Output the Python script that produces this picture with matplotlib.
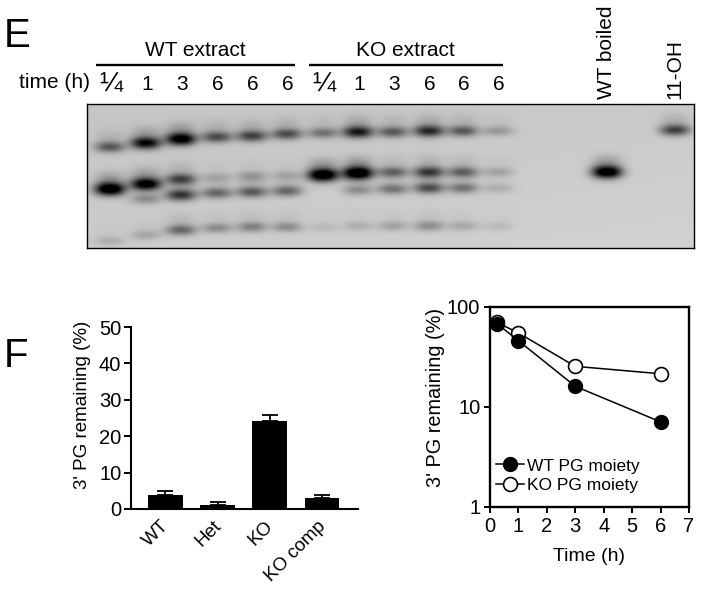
"""Gel panel (E) and PG remaining charts (F)."""

import numpy as np
import matplotlib
import matplotlib.pyplot as plt
from matplotlib.transforms import ScaledTranslation

matplotlib.use("Agg")

plt.rcParams["font.family"] = ["Liberation Sans", "DejaVu Sans"]

W, H = 701, 589

# gel lanes, pixel x of every lane (12 extract lanes, WT boiled, 11-OH)
lane_x = [110, 146, 181, 217, 252, 287, 323, 358, 393, 429, 463, 498, 607, 675]

# (row y in pixels, darkness) per lane, None means no band
oh11_y = [147, 143, 139, 137, 136, 134, 133, 132, 132, 131, 131, 131, None, 130]
oh11_dark = [0.45, 0.8, 0.9, 0.5, 0.55, 0.5, 0.35, 0.72, 0.45, 0.65, 0.45, 0.2, 0, 0.55]
pg11_y = [189, 184, 179, 177, 176, 175, 175, 173, 172, 172, 172, 172, 172, None]
pg11_dark = [1.0, 0.88, 0.5, 0.12, 0.18, 0.12, 1.0, 1.0, 0.4, 0.55, 0.4, 0.15, 0.95, 0]
oh10_y = [None, 199, 195, 193, 192, 191, None, 190, 189, 188, 188, 188, None, None]
oh10_dark = [0, 0.25, 0.6, 0.4, 0.45, 0.4, 0, 0.25, 0.35, 0.5, 0.35, 0.12, 0, 0]
low_y = [241, 235, 230, 228, 227, 227, 227, 226, 226, 226, 226, 226, None, None]
low_dark = [0.12, 0.15, 0.4, 0.25, 0.3, 0.25, 0.08, 0.12, 0.17, 0.25, 0.15, 0.08, 0, 0]

time_labels = ["¼", "1", "3", "6", "6", "6", "¼", "1", "3", "6", "6", "6"]

# bar chart
bar_groups = ["WT", "Het", "KO", "KO comp"]
bar_values = [3.8, 1.2, 24.3, 3.1]
bar_errors = [1.1, 0.7, 1.5, 0.8]

# time course
time_h = [0.25, 1, 3, 6]
wt_pg = [68, 46, 16.1, 7.1]
ko_pg = [70, 55, 25.5, 21.5]

FS = 15


def px_axes(fig, x0, y0, x1, y1):
    return fig.add_axes([x0 / W, 1 - y1 / H, (x1 - x0) / W, (y1 - y0) / H])


def gel_image(x0, y0, x1, y1):
    X, Y = np.meshgrid(np.arange(x0, x1) + 0.5, np.arange(y0, y1) + 0.5)
    signal = np.zeros_like(X, dtype=float)
    for ys, darks in [(oh11_y, oh11_dark), (pg11_y, pg11_dark),
                      (oh10_y, oh10_dark), (low_y, low_dark)]:
        for lx, by, d in zip(lane_x, ys, darks):
            if by is None:
                continue
            across = np.exp(-(np.abs(X - lx) / 15.0) ** 2.4)
            # strong bands get fatter, each has a faint smear above it
            sy = 4.8 + 1.8 * d
            core = np.exp(-((Y - by) / sy) ** 2)
            smear = 0.2 * np.exp(-((Y - by + 11) / 7.0) ** 2)
            signal += d * across * (1.25 * core + smear)
    grey = 0.77 + 0.03 * (Y - y0) / (y1 - y0) + 0.02 * (X - x0) / (x1 - x0)
    return np.clip(grey * (1 - np.clip(signal, 0, 1)), 0, 1)


fig = plt.figure(figsize=(W / 100, H / 100), dpi=100, facecolor="white")

# overlay in pixel coordinates for the labels
over = fig.add_axes([0, 0, 1, 1])
over.set_xlim(0, W)
over.set_ylim(H, 0)
over.axis("off")

over.text(4, 36, "E", fontsize=29, ha="left", va="center")
over.text(4, 356, "F", fontsize=29, ha="left", va="center")
over.text(195, 51, "WT extract", fontsize=FS, ha="center", va="center")
over.text(405, 51, "KO extract", fontsize=FS, ha="center", va="center")
over.plot([96, 295], [64.5, 64.5], color="k", lw=1.7, solid_capstyle="butt")
over.plot([309, 503], [64.5, 64.5], color="k", lw=1.7, solid_capstyle="butt")
over.text(19, 82, "time (h)", fontsize=FS, ha="left", va="center")
for lx, lab in zip(lane_x, time_labels):
    size = 20 if lab == "¼" else FS
    over.text(lx + 1, 84, lab, fontsize=size, ha="center", va="center")
over.text(607, 99, "WT boiled", fontsize=FS, rotation=90, ha="center", va="bottom")
over.text(675, 99, "11-OH", fontsize=FS, rotation=90, ha="center", va="bottom")
for yy, lab in [(130, "11-OH"), (169, "11-PG"), (188, "10-OH")]:
    over.plot([513, 521], [yy, yy], color="k", lw=1.7, solid_capstyle="butt")
    over.text(523, yy, lab, fontsize=FS, ha="left", va="center")

# panel E gel
gel_box = (87, 104, 694, 248)
ax_gel = px_axes(fig, *gel_box)
ax_gel.imshow(gel_image(*gel_box), cmap="gray", vmin=0, vmax=1, aspect="auto",
              interpolation="bilinear")
ax_gel.set_xticks([])
ax_gel.set_yticks([])
for sp in ax_gel.spines.values():
    sp.set_linewidth(1.0)

# panel F bars
ax_bar = px_axes(fig, 131, 327, 358, 509)
pos = np.arange(len(bar_groups))
ax_bar.bar(pos, bar_values, width=0.67, color="k")
ax_bar.errorbar(pos, bar_values, yerr=[np.zeros(4), bar_errors], fmt="none",
                ecolor="k", elinewidth=1.3, capsize=6, capthick=1.3)
ax_bar.set_xlim(-0.66, 3.69)
ax_bar.set_ylim(0, 50)
ax_bar.set_yticks([0, 10, 20, 30, 40, 50])
ax_bar.set_xticks(pos)
ax_bar.set_xticklabels(bar_groups, rotation=45, ha="right", rotation_mode="anchor")
ax_bar.tick_params(axis="x", length=0, pad=6, labelsize=13.5)
ax_bar.tick_params(axis="y", length=5, width=1.4, pad=2, labelsize=14.5)
shift = ScaledTranslation(-5 / 100, 0, fig.dpi_scale_trans)
for lab in ax_bar.get_xticklabels():
    lab.set_transform(lab.get_transform() + shift)
ax_bar.spines["top"].set_visible(False)
ax_bar.spines["right"].set_visible(False)
ax_bar.spines["left"].set_linewidth(1.5)
ax_bar.spines["bottom"].set_linewidth(1.5)
ax_bar.set_ylabel("3' PG remaining (%)", fontsize=13.5)
ax_bar.yaxis.set_label_coords(-0.176, 0.57)
over.text(269, 402, "***", fontsize=17, ha="center", va="center")

# panel F time course
ax_line = px_axes(fig, 490, 307, 689, 507)
ax_line.plot(time_h, ko_pg, "-o", color="k", mfc="white", mec="k", mew=1.2, ms=10,
             lw=1.1, label="KO PG moiety")
ax_line.plot(time_h, wt_pg, "-o", color="k", mfc="k", mec="k", ms=10,
             lw=1.1, label="WT PG moiety")
ax_line.set_yscale("log")
ax_line.set_xlim(0, 7)
ax_line.set_ylim(1, 100)
ax_line.set_xticks(range(8))
ax_line.set_yticks([1, 10, 100])
ax_line.set_yticklabels(["1", "10", "100"])
ax_line.minorticks_off()
ax_line.tick_params(length=4, width=1.4, pad=3, labelsize=14.5)
for sp in ax_line.spines.values():
    sp.set_linewidth(1.7)
ax_line.set_xlabel("Time (h)", fontsize=14, labelpad=9)
ax_line.set_ylabel("3' PG remaining (%)", fontsize=14.3)
ax_line.yaxis.set_label_coords(-0.226, 0.55)
handles, labels = ax_line.get_legend_handles_labels()
ax_line.legend(handles[::-1], labels[::-1], loc="lower left", frameon=False,
               fontsize=12.5, handlelength=1.6, handletextpad=0.2, labelspacing=0.25,
               bbox_to_anchor=(0.03, 0.07), borderaxespad=0, borderpad=0)

fig.savefig("out.png", dpi=100)
